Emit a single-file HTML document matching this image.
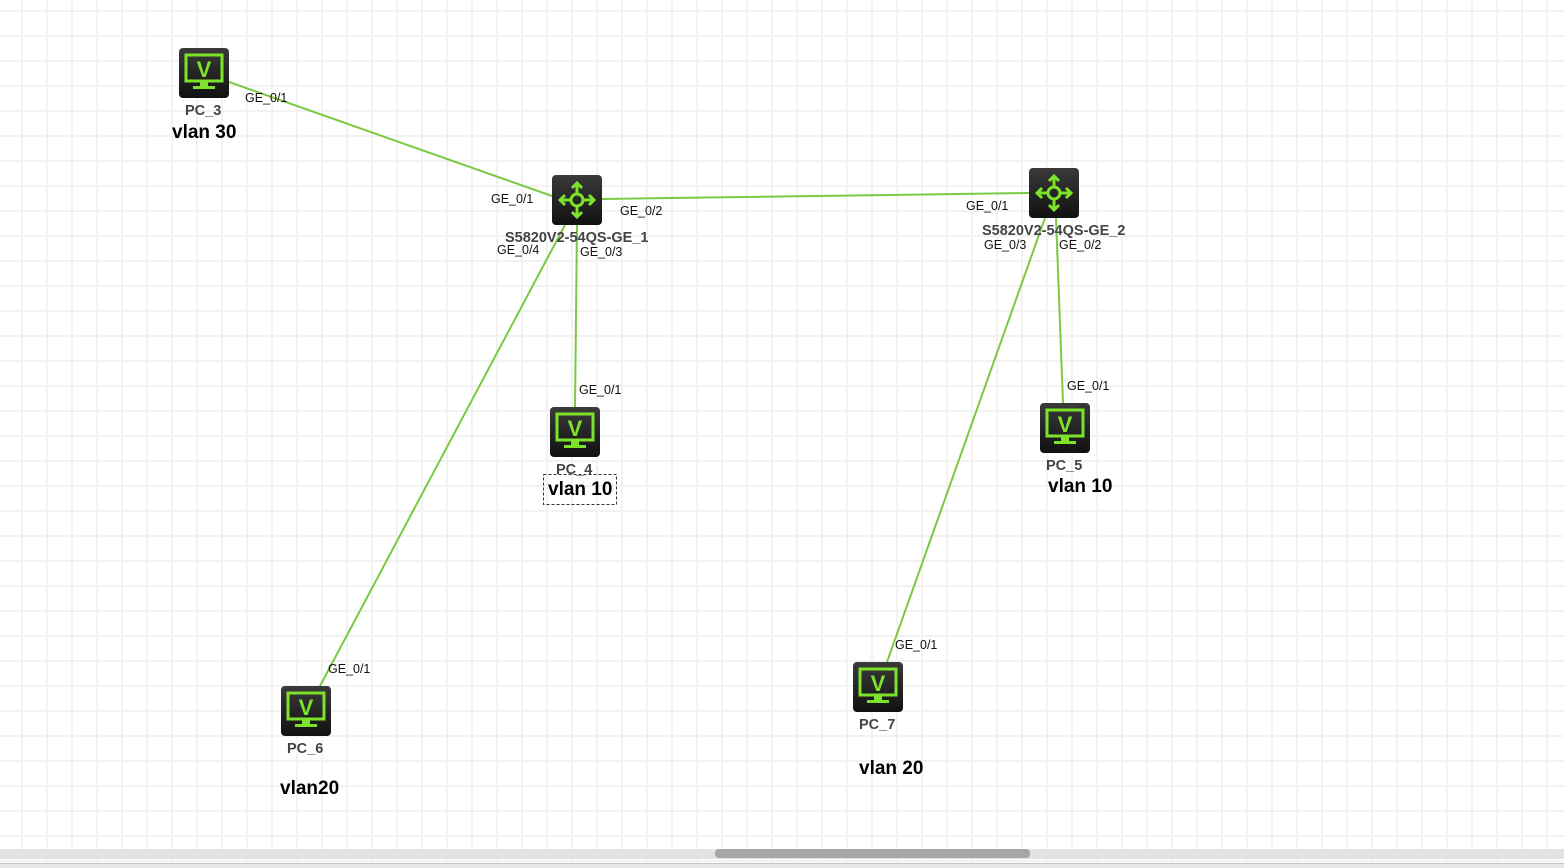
<!DOCTYPE html>
<html><head><style>
body{margin:0;width:1564px;height:868px;overflow:hidden;font-family:"Liberation Sans",sans-serif;position:relative;
background-color:#fff;
background-image:linear-gradient(to right,#f2f2f2 2px,transparent 2px),linear-gradient(to bottom,#f2f2f2 2px,transparent 2px);
background-size:25px 25px;background-position:21px 10px;}
.t{position:absolute;font-size:12.5px;color:#111;white-space:nowrap}
.n{position:absolute;font-size:14.5px;font-weight:bold;color:#444;white-space:nowrap}
.v{position:absolute;font-size:19px;font-weight:bold;color:#000;white-space:nowrap}
</style></head><body>
<svg width="1564" height="868" style="position:absolute;left:0;top:0">
<defs>
<linearGradient id="g" x1="0" y1="0" x2="0" y2="1"><stop offset="0" stop-color="#3a3a3a"/><stop offset="1" stop-color="#111"/></linearGradient>
<g id="pc"><rect width="50" height="50" rx="4" fill="url(#g)"/>
<rect x="7" y="7" width="36" height="26" fill="none" stroke="#7de22a" stroke-width="3"/>
<text x="25" y="29" text-anchor="middle" font-family="Liberation Sans" font-weight="bold" font-size="22" fill="#7de22a">V</text>
<rect x="21" y="34" width="8" height="4" fill="#7de22a"/><rect x="14" y="38" width="22" height="3" fill="#7de22a"/></g>
<g id="sw"><rect width="50" height="50" rx="4" fill="url(#g)"/>
<g stroke="#7de22a" stroke-width="3" fill="none"><circle cx="25" cy="25" r="6"/>
<path d="M25 19V8M25 31V42M19 25H8M31 25H42M20 13l5-5 5 5M20 37l5 5 5-5M13 20l-5 5 5 5M37 20l5 5-5 5"/></g></g>
</defs>
<g stroke="#7ac943" stroke-width="2">
<line x1="229" y1="82" x2="552" y2="196"/>
<line x1="602" y1="199" x2="1029" y2="193"/>
<line x1="565" y1="225" x2="320" y2="686"/>
<line x1="577" y1="225" x2="575" y2="407"/>
<line x1="1045" y1="218" x2="887" y2="662"/>
<line x1="1056" y1="218" x2="1063" y2="403"/>
</g>
<use href="#pc" x="179" y="48"/>
<use href="#sw" x="552" y="175"/>
<use href="#sw" x="1029" y="168"/>
<use href="#pc" x="550" y="407"/>
<use href="#pc" x="1040" y="403"/>
<use href="#pc" x="281" y="686"/>
<use href="#pc" x="853" y="662"/>
<rect x="0" y="849" width="1564" height="10" fill="#e2e2e2"/>
<rect x="715" y="849" width="315" height="9" rx="4" fill="#a6a6a6"/>
<rect x="0" y="863" width="1564" height="5" fill="#e6e6e6"/>
<line x1="0" y1="863.5" x2="1564" y2="863.5" stroke="#c4c4c4"/>
<rect x="543.5" y="474.5" width="73" height="30" fill="none" stroke="#333" stroke-dasharray="3,2"/>
</svg>
<div class="t" style="left:245px;top:91px">GE_0/1</div>
<div class="n" style="left:185px;top:103px">PC_3</div>
<div class="v" style="left:172px;top:122px">vlan 30</div>
<div class="t" style="left:491px;top:192px">GE_0/1</div>
<div class="t" style="left:620px;top:204px">GE_0/2</div>
<div class="n" style="left:505px;top:230px">S5820V2-54QS-GE_1</div>
<div class="t" style="left:497px;top:243px">GE_0/4</div>
<div class="t" style="left:580px;top:245px">GE_0/3</div>
<div class="t" style="left:966px;top:199px">GE_0/1</div>
<div class="n" style="left:982px;top:223px">S5820V2-54QS-GE_2</div>
<div class="t" style="left:984px;top:238px">GE_0/3</div>
<div class="t" style="left:1059px;top:238px">GE_0/2</div>
<div class="t" style="left:579px;top:383px">GE_0/1</div>
<div class="n" style="left:556px;top:462px">PC_4</div>
<div class="v" style="left:548px;top:479px">vlan 10</div>
<div class="t" style="left:1067px;top:379px">GE_0/1</div>
<div class="n" style="left:1046px;top:458px">PC_5</div>
<div class="v" style="left:1048px;top:476px">vlan 10</div>
<div class="t" style="left:328px;top:662px">GE_0/1</div>
<div class="n" style="left:287px;top:741px">PC_6</div>
<div class="v" style="left:280px;top:778px">vlan20</div>
<div class="t" style="left:895px;top:638px">GE_0/1</div>
<div class="n" style="left:859px;top:717px">PC_7</div>
<div class="v" style="left:859px;top:758px">vlan 20</div>
</body></html>
